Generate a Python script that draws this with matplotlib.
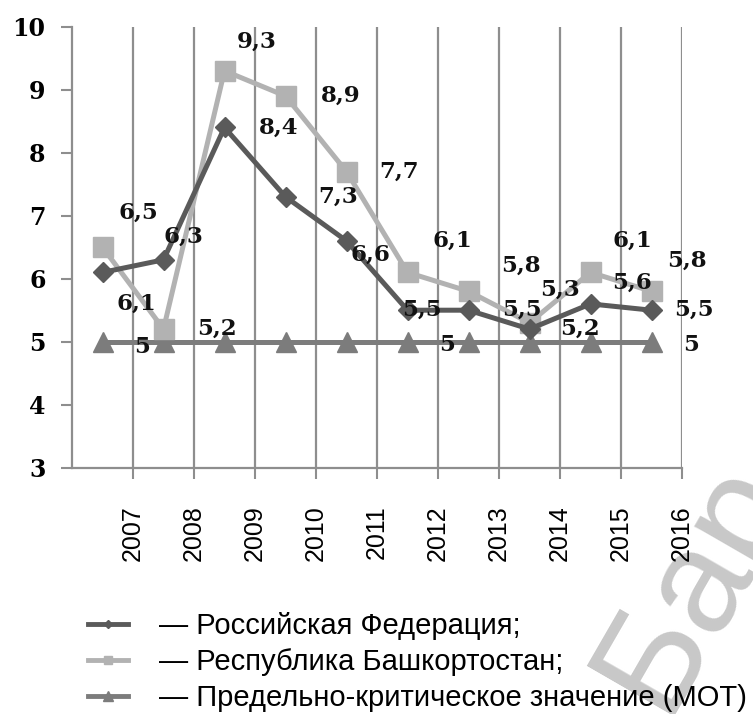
import matplotlib.pyplot as plt
from matplotlib.lines import Line2D
import numpy as np

# data
years = ["2007", "2008", "2009", "2010", "2011", "2012", "2013", "2014", "2015", "2016"]
rf = [6.1, 6.3, 8.4, 7.3, 6.6, 5.5, 5.5, 5.2, 5.6, 5.5]
rb = [6.5, 5.2, 9.3, 8.9, 7.7, 6.1, 5.8, 5.3, 6.1, 5.8]
mot = [5, 5, 5, 5, 5, 5, 5, 5, 5, 5]
mot_labeled = [0, 5, 9]
legend_labels = ["— Российская Федерация;", "— Республика Башкортостан;",
                 "— Предельно-критическое значение (МОТ)"]

# label offsets in pixels (dx, dy with y up), as placed in the source chart
rf_off = [(34, -31), (20, 23), (54, 0), (53, 0), (24, -14),
          (14, 0), (53, 0), (50, 0), (42, 21), (42, 0)]
rb_off = [(36, 34), (53, 0), (32, 29), (55, 0), (53, 0),
          (45, 32), (52, 26), (30, 33), (42, 32), (35, 31)]
mot_off = [(40, -5), (40, -3), (40, -3)]

c_rf = "#5a5a5a"
c_rb = "#b2b2b2"
c_mot = "#7c7c7c"
grid_c = "#8e8e8e"

fig = plt.figure(figsize=(7.53, 7.14), dpi=100)
ax = fig.add_axes([72 / 753, 1 - 467.7 / 714, 610 / 753, 441 / 714])
ax.patch.set_alpha(0)

x = np.arange(len(years))

ax.plot(x, mot, color=c_mot, lw=3.6, marker="^", ms=15, zorder=3)
ax.plot(x, rb, color=c_rb, lw=3.6, marker="s", ms=14, zorder=4)
ax.plot(x, rf, color=c_rf, lw=3.6, marker="D", ms=10, zorder=5)

lab_font = dict(family="DejaVu Serif", fontweight="bold", fontsize=16.5, color="#111111")


def fmt(v):
    return f"{v:.1f}".replace(".", ",")


for i, v in enumerate(rf):
    ax.annotate(fmt(v), (x[i], v), xytext=rf_off[i], textcoords="offset pixels",
                ha="center", va="center", zorder=6, **lab_font)
for i, v in enumerate(rb):
    ax.annotate(fmt(v), (x[i], v), xytext=rb_off[i], textcoords="offset pixels",
                ha="center", va="center", zorder=6, **lab_font)
for k, i in enumerate(mot_labeled):
    ax.annotate(str(mot[i]), (x[i], mot[i]), xytext=mot_off[k], textcoords="offset pixels",
                ha="center", va="center", zorder=6, **lab_font)

ax.set_xlim(-0.5, len(years) - 0.5)
ax.set_ylim(3, 10)
ax.set_xticks(x + 0.5)
ax.set_xticklabels(years, rotation=90, fontsize=18, family="Liberation Sans")
ax.set_yticks(range(3, 11))
ax.set_yticklabels([str(v) for v in range(3, 11)], family="DejaVu Serif",
                   fontweight="bold", fontsize=17)
ax.tick_params(axis="x", length=8, width=1.5, color=grid_c, pad=19)
ax.tick_params(axis="y", length=8, width=1.5, color=grid_c, pad=11)
ax.grid(axis="x", color=grid_c, lw=1.6)
ax.set_axisbelow(True)
for s in ["top", "right"]:
    ax.spines[s].set_visible(False)
for s in ["left", "bottom"]:
    ax.spines[s].set_color(grid_c)
    ax.spines[s].set_linewidth(1.6)

handles = [Line2D([], [], color=c_rf, lw=3.5, marker="D", ms=4),
           Line2D([], [], color=c_rb, lw=3.5, marker="s", ms=6),
           Line2D([], [], color=c_mot, lw=3.5, marker="^", ms=7)]
leg = fig.legend(handles, legend_labels, loc="upper left", bbox_to_anchor=(88 / 753, 1 - 612 / 714),
                 frameon=False, prop={"family": "Liberation Sans", "size": 21},
                 handlelength=1.37, handletextpad=1.06, labelspacing=0.27, borderpad=0, borderaxespad=0)
leg.set_zorder(5)

# watermark
fig.text(695 / 753, 1 - 585 / 714, "Бар", rotation=60, fontsize=105, color="#c8c8c8",
         family="Liberation Sans", ha="center", va="center", zorder=-1)

fig.savefig("out.png", dpi=100)
